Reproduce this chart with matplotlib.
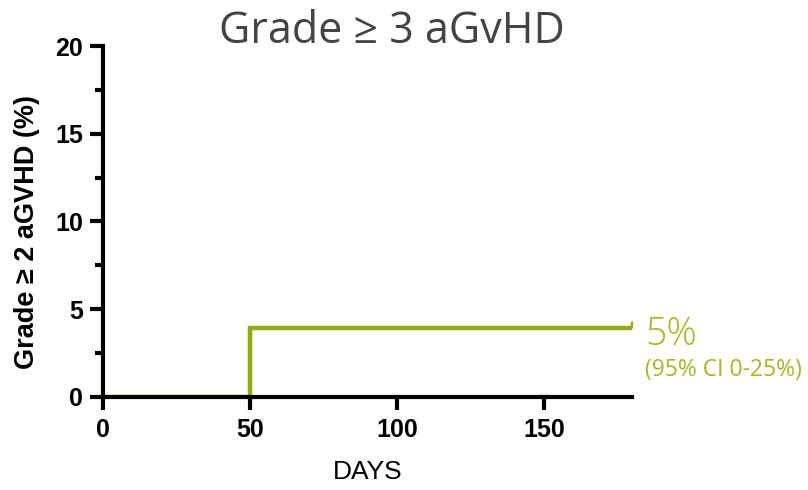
import numpy as np
import matplotlib.pyplot as plt
from matplotlib.ticker import MultipleLocator

# Daten
days = [0, 50, 180]
incidence = [0.0, 3.9, 3.9]
x_ticks = [0, 50, 100, 150]
y_ticks = [0, 5, 10, 15, 20]

line_col = "#8fab14"
text_col = "#9dba2a"

fig = plt.figure(figsize=(8.08, 4.9), dpi=100)
ax = fig.add_axes([0.1275, 0.19, 0.655, 0.716])

ax.step(days, incidence, where="post", color=line_col, lw=3.2, solid_joinstyle="miter")
# Zensurmarke am Ende
ax.plot(days[-1], incidence[-1], marker=[(0, 0), (0, 1)], ms=10, mew=2.5,
        color=line_col)

ax.set_xlim(0, 180)
ax.set_ylim(0, 20)
ax.set_xticks(x_ticks)
ax.set_yticks(y_ticks)
ax.yaxis.set_minor_locator(MultipleLocator(2.5))

for s in ["top", "right"]:
    ax.spines[s].set_visible(False)
for s in ["left", "bottom"]:
    ax.spines[s].set_linewidth(3)
ax.tick_params(which="major", length=9.5, width=3)
ax.tick_params(axis="x", which="major", pad=6)
ax.tick_params(axis="y", which="major", pad=5)
ax.tick_params(which="minor", length=6, width=3)
for lab in ax.get_xticklabels() + ax.get_yticklabels():
    lab.set_fontfamily("Liberation Sans")
    lab.set_fontweight("bold")
    lab.set_fontsize(18)

ax.set_ylabel("Grade ≥ 2 aGVHD (%)", family="Liberation Sans", fontweight="bold",
              fontsize=19.5)
ax.yaxis.set_label_coords(-0.119, 0.47)
ax.set_xlabel("DAYS", family="Liberation Sans", fontsize=19)
ax.xaxis.set_label_coords(0.501, -0.179)

fig.text(0.485, 1 - 43 / 490, "Grade ≥ 3 aGvHD", family="Open Sans", fontsize=31,
         color="#444444", ha="center", va="baseline")

fig.text(645 / 808, 1 - 345 / 490, "5%", family="Open Sans", fontsize=27,
         color=text_col, ha="left", va="baseline", fontweight="light")
fig.text(645 / 808, 1 - 376 / 490, "(95% CI 0-25%)", family="Open Sans",
         fontsize=16.5, color=text_col, ha="left", va="baseline")

fig.savefig("out.png", dpi=100)
